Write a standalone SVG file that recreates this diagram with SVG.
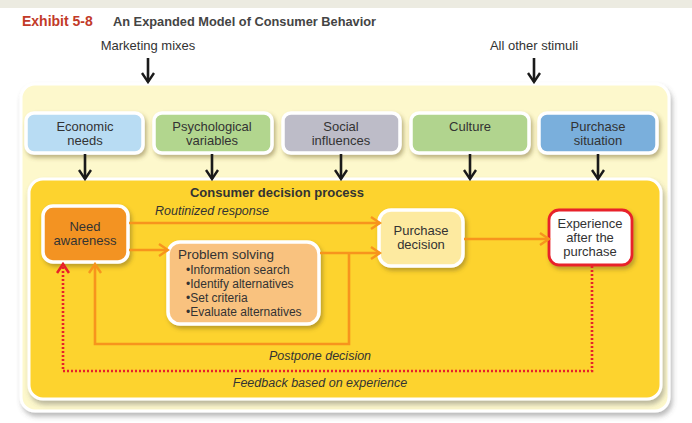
<svg xmlns="http://www.w3.org/2000/svg" width="692" height="423" viewBox="0 0 692 423">
<defs>
<style>
.t{font-family:"Liberation Sans",Arial,sans-serif;fill:#333;font-size:13px}
.c{text-anchor:middle}
.i{font-style:italic;font-size:12.5px}
.b{font-weight:bold}
.bl{font-size:12px}
.box{stroke:#fff;stroke-width:3.5}
.blk{stroke:#1a1a1a;stroke-width:2.6;fill:none}
.or{stroke:#f7941d;stroke-width:2.6;fill:none}
.rd{stroke:#e8202a;stroke-width:2.6;fill:none;stroke-dasharray:2 2}
</style>
<filter id="sh" x="-10%" y="-10%" width="130%" height="140%">
<feDropShadow dx="2" dy="3" stdDeviation="2" flood-color="#6b5a20" flood-opacity="0.45"/>
</filter>
<filter id="sh2" x="-5%" y="-5%" width="110%" height="115%">
<feDropShadow dx="2" dy="4" stdDeviation="2.5" flood-color="#555" flood-opacity="0.4"/>
</filter>
<marker id="ab" markerWidth="12" markerHeight="14" refX="10" refY="7" orient="auto" markerUnits="userSpaceOnUse" viewBox="0 0 12 14">
<path d="M1,1 L10,7 L1,13" fill="none" stroke="#1a1a1a" stroke-width="2.4"/>
</marker>
<marker id="ao" markerWidth="12" markerHeight="14" refX="10" refY="7" orient="auto" markerUnits="userSpaceOnUse" viewBox="0 0 12 14">
<path d="M1,1 L10,7 L1,13" fill="none" stroke="#f7941d" stroke-width="2.4"/>
</marker>
<marker id="ar" markerWidth="12" markerHeight="14" refX="10" refY="7" orient="auto" markerUnits="userSpaceOnUse" viewBox="0 0 12 14">
<path d="M1,1 L10,7 L1,13" fill="none" stroke="#e8202a" stroke-width="2.6"/>
</marker>
</defs>
<rect x="0" y="0" width="692" height="423" fill="#fff"/>
<rect x="0" y="0" width="692" height="8" fill="#ecebe1"/>
<g id="title">
<text class="t b" x="22" y="26" style="fill:#c23a28;font-size:14px">Exhibit 5-8</text>
<text class="t b" x="113" y="26" style="font-size:12.8px;fill:#444">An Expanded Model of Consumer Behavior</text>
</g>
<g id="marketing-mixes"><text class="t c" x="148" y="50">Marketing mixes</text></g>
<g id="all-other-stimuli"><text class="t c" x="534" y="50">All other stimuli</text></g>
<g id="outer-panel">
<rect x="21" y="84" width="648" height="327" rx="14" fill="#fdf8cc" stroke="#fff" stroke-width="3" filter="url(#sh2)"/>
</g>
<g id="inner-panel">
<rect x="29" y="179" width="632" height="220" rx="14" fill="#fdd32e" stroke="#fff" stroke-width="3" filter="url(#sh2)"/>
<text class="t b c" x="277" y="197">Consumer decision process</text>
</g>
<g id="economic-needs">
<rect class="box" x="26" y="113" width="117" height="40" rx="8" fill="#b8dcf3" filter="url(#sh)"/>
<text class="t c" x="85" y="131">Economic</text><text class="t c" x="85" y="145">needs</text>
</g>
<g id="psychological-variables">
<rect class="box" x="154" y="113" width="118" height="40" rx="8" fill="#b2d68e" filter="url(#sh)"/>
<text class="t c" x="212" y="131">Psychological</text><text class="t c" x="212" y="145">variables</text>
</g>
<g id="social-influences">
<rect class="box" x="283" y="113" width="117" height="40" rx="8" fill="#bdbcc8" filter="url(#sh)"/>
<text class="t c" x="341" y="131">Social</text><text class="t c" x="341" y="145">influences</text>
</g>
<g id="culture">
<rect class="box" x="411" y="113" width="118" height="40" rx="8" fill="#b1d48e" filter="url(#sh)"/>
<text class="t c" x="470" y="131">Culture</text>
</g>
<g id="purchase-situation">
<rect class="box" x="539" y="113" width="118" height="40" rx="8" fill="#7aafdc" filter="url(#sh)"/>
<text class="t c" x="598" y="131">Purchase</text><text class="t c" x="598" y="145">situation</text>
</g>
<g id="need-awareness">
<rect class="box" x="43" y="206" width="85" height="56" rx="10" fill="#f39322" filter="url(#sh)"/>
<text class="t c" x="85" y="231">Need</text><text class="t c" x="85" y="245">awareness</text>
</g>
<g id="problem-solving">
<rect class="box" x="168" y="242" width="151" height="82" rx="12" fill="#f9c27f" filter="url(#sh)"/>
<text class="t" x="178" y="259" style="font-size:13.5px">Problem solving</text>
<text class="t bl" x="186" y="274">•Information search</text>
<text class="t bl" x="186" y="288">•Identify alternatives</text>
<text class="t bl" x="186" y="302">•Set criteria</text>
<text class="t bl" x="186" y="316">•Evaluate alternatives</text>
</g>
<g id="purchase-decision">
<rect class="box" x="379" y="210" width="84" height="56" rx="12" fill="#fdeaa0" filter="url(#sh)"/>
<text class="t c" x="421" y="235">Purchase</text><text class="t c" x="421" y="249">decision</text>
</g>
<g id="experience">
<rect x="549" y="210" width="83" height="55" rx="10" fill="#fff" stroke="#e8202a" stroke-width="2.8" filter="url(#sh)"/>
<text class="t c" x="590" y="228">Experience</text><text class="t c" x="590" y="242">after the</text><text class="t c" x="590" y="256">purchase</text>
</g>
<g id="connectors">
<line class="blk" x1="148" y1="58" x2="148" y2="82" marker-end="url(#ab)"/>
<line class="blk" x1="534" y1="58" x2="534" y2="82" marker-end="url(#ab)"/>
<line class="blk" x1="85" y1="154" x2="85" y2="179" marker-end="url(#ab)"/>
<line class="blk" x1="212" y1="154" x2="212" y2="179" marker-end="url(#ab)"/>
<line class="blk" x1="341" y1="154" x2="341" y2="179" marker-end="url(#ab)"/>
<line class="blk" x1="470" y1="154" x2="470" y2="179" marker-end="url(#ab)"/>
<line class="blk" x1="598" y1="154" x2="598" y2="179" marker-end="url(#ab)"/>
<line class="or" x1="129" y1="223" x2="380" y2="223" marker-end="url(#ao)"/>
<line class="or" x1="129" y1="250" x2="168" y2="250" marker-end="url(#ao)"/>
<line class="or" x1="320" y1="253" x2="380" y2="253" marker-end="url(#ao)"/>
<polyline class="or" points="349,253 349,344 95,344 95,264" marker-end="url(#ao)"/>
<line class="or" x1="464" y1="239" x2="549" y2="239" marker-end="url(#ao)"/>
<polyline class="rd" points="592,266 592,371 63,371 63,264" marker-end="url(#ar)"/>
<text class="t i c" x="212" y="215">Routinized response</text>
<text class="t i c" x="320" y="360">Postpone decision</text>
<text class="t i c" x="320" y="387">Feedback based on experience</text>
</g>
</svg>
